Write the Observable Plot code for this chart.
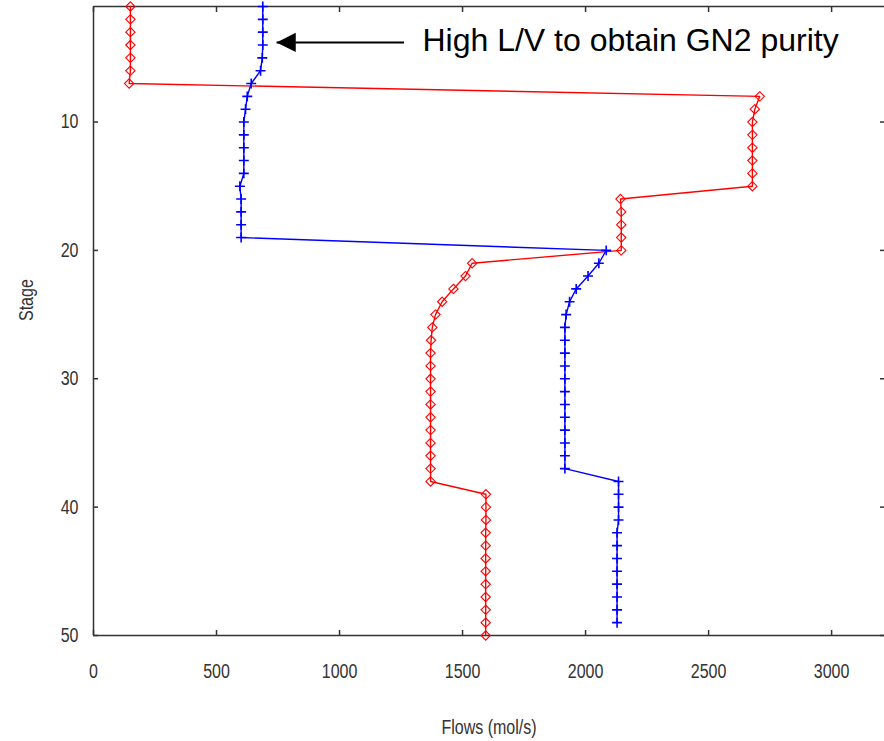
<!DOCTYPE html>
<html>
<head>
<meta charset="utf-8">
<script src="https://cdn.jsdelivr.net/npm/d3@7"></script>
<script src="https://cdn.jsdelivr.net/npm/@observablehq/plot@0.6"></script>
<style>
  html, body { margin: 0; padding: 0; background: #fff; }
  #chart { width: 884px; height: 741px; overflow: hidden; }
</style>
</head>
<body>
<div id="chart"></div>
<script>
// Stage numbers
const stages = [1,2,3,4,5,6,7,8,9,10,11,12,13,14,15,16,17,18,19,20,21,22,23,24,25,
  26,27,28,29,30,31,32,33,34,35,36,37,38,39,40,41,42,43,44,45,46,47,48,49,50];
// Red series (diamonds), stages 1-50, mol/s
const redFlows = [150,150,150,150,150,150,145,2708,2688,2678,2678,2678,2678,2678,2678,
  2142,2145,2145,2145,2145,1539,1512,1463,1417,1390,1377,1372,1370,1370,1370,1370,1370,
  1370,1370,1370,1370,1370,1370,1595,1595,1595,1594,1594,1594,1594,1594,1594,1594,1594,1594];
// Blue series (plus), stages 1-49, mol/s
const blueFlows = [688,688,688,688,686,679,641,625,618,611,611,611,611,611,595,600,600,600,600,
  2084,2054,2010,1962,1935,1921,1916,1916,1916,1916,1916,1916,1916,1916,1916,1916,1916,1916,
  2134,2134,2134,2134,2128,2128,2128,2128,2128,2128,2128,2128];
const xTicks = [0,500,1000,1500,2000,2500,3000];
const yTicks = [10,20,30,40,50];
const annotationText = "High L/V to obtain GN2 purity";
const arrowFrom = {flow: 1262, stage: 3.8};
const arrowTo = {flow: 744, stage: 3.8};
const textAt = {flow: 1337, stage: 4.5};

const red = stages.map((s, i) => ({stage: s, flow: redFlows[i]}));
const blue = blueFlows.map((f, i) => ({stage: stages[i], flow: f}));

const leftTriangle = {
  draw(ctx, size) {
    const r = Math.sqrt(size / Math.PI);
    ctx.moveTo(0, 0);
    ctx.lineTo(2.4 * r, -1.2 * r);
    ctx.lineTo(2.4 * r, 1.2 * r);
    ctx.closePath();
  }
};

const tickFont = "'Liberation Sans', Arial, sans-serif";
const frameColor = "#333";

const plot = Plot.plot({
  width: 884,
  height: 741,
  marginLeft: 93,
  marginRight: 0,
  marginTop: 6,
  marginBottom: 106,
  style: {fontFamily: tickFont, fontSize: "20px", color: "#333", background: "#fff"},
  x: {domain: [0, 3215]},
  y: {domain: [1, 50], reverse: true},
  marks: [
    // frame lines
    Plot.ruleY([1], {stroke: frameColor, strokeWidth: 1.5}),
    Plot.ruleY([50], {stroke: frameColor, strokeWidth: 1.5}),
    Plot.ruleX([0], {stroke: frameColor, strokeWidth: 1.5}),
    // inward ticks
    Plot.axisX({anchor: "bottom", ticks: xTicks, tickSize: -5, text: null, label: null, stroke: frameColor, strokeWidth: 1.5}),
    Plot.axisX({anchor: "top", ticks: xTicks, tickSize: -5, text: null, label: null, stroke: frameColor, strokeWidth: 1.5}),
    Plot.axisY({anchor: "left", ticks: yTicks, tickSize: -5, text: null, label: null, stroke: frameColor, strokeWidth: 1.5}),
    Plot.axisY({anchor: "right", ticks: yTicks, tickSize: -5, text: null, label: null, stroke: frameColor, strokeWidth: 1.5}),
    // tick labels
    Plot.axisX({anchor: "bottom", ticks: xTicks, tickSize: 0, tickPadding: 28, tickFormat: d => String(d), label: null, className: "narrow"}),
    Plot.axisY({anchor: "left", ticks: yTicks, tickSize: 0, tickPadding: 15, tickFormat: d => String(d), label: null, className: "narrow"}),
    // axis titles
    Plot.text(["Flows (mol/s)"], {frameAnchor: "bottom", dy: 98, fontSize: 20, fill: "#333", className: "narrow"}),
    Plot.text(["Stage"], {frameAnchor: "left", dx: -67, rotate: -90, fontSize: 20, fill: "#333", className: "narrow"}),
    // series
    Plot.line(red, {x: "flow", y: "stage", stroke: "#ff0000", strokeWidth: 1.4}),
    Plot.dot(red, {x: "flow", y: "stage", symbol: "diamond2", r: 4.2, stroke: "#ff0000", fill: "none", strokeWidth: 1.1}),
    Plot.line(blue, {x: "flow", y: "stage", stroke: "#0000ff", strokeWidth: 1.4}),
    Plot.dot(blue, {x: "flow", y: "stage", symbol: "plus", r: 3.3, stroke: "#0000ff", strokeWidth: 1.6}),
    // annotation
    Plot.link([0], {x1: () => arrowFrom.flow, y1: () => arrowFrom.stage, x2: () => arrowTo.flow, y2: () => arrowTo.stage, stroke: "#000", strokeWidth: 2}),
    Plot.dot([arrowTo], {x: "flow", y: "stage", symbol: leftTriangle, r: 8, fill: "#000", stroke: "none"}),
    Plot.text([textAt], {x: "flow", y: "stage", text: () => annotationText, textAnchor: "start", lineAnchor: "bottom", fontSize: 32, fontFamily: "'Liberation Sans', Arial, sans-serif", fill: "#000"})
  ]
});
// horizontally condense the axis texts to mimic the narrow font of the reference
plot.querySelectorAll(".narrow text").forEach(t => {
  const tr = t.getAttribute("transform") || "";
  t.setAttribute("transform", (tr + " scale(0.8,1)").trim());
});
document.getElementById("chart").appendChild(plot);
</script>
</body>
</html>
